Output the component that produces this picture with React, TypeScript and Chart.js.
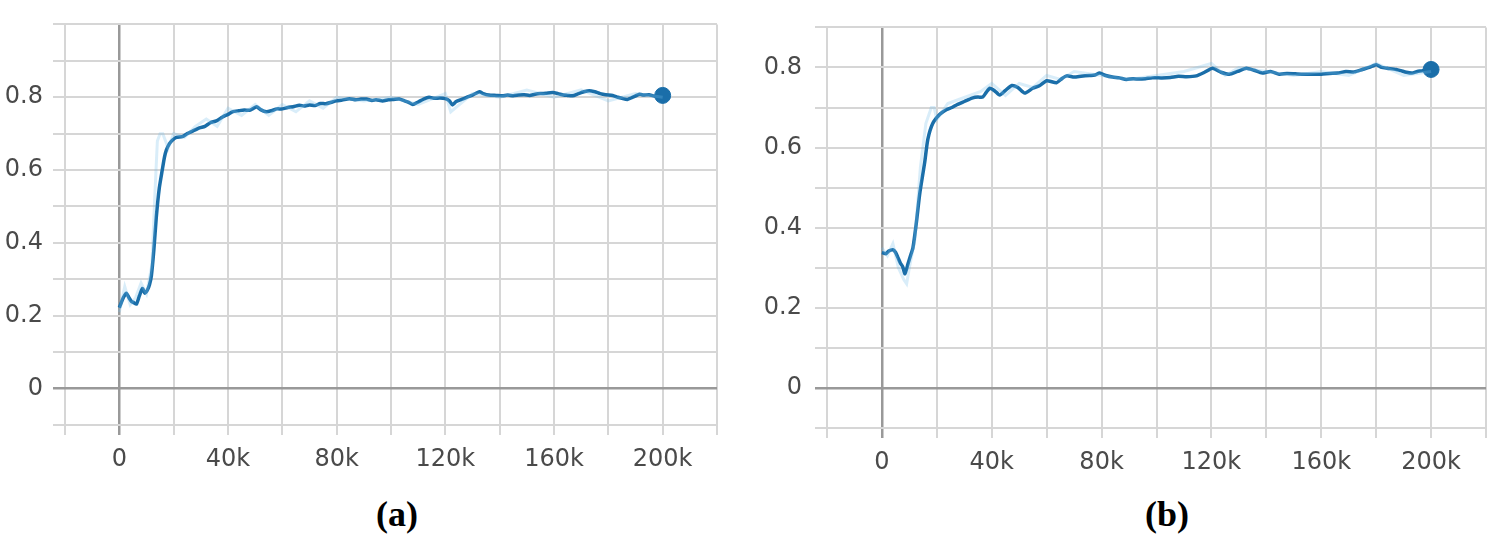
import React, { useEffect, useRef } from 'react';
import { Chart, registerables } from 'chart.js';

Chart.register(...registerables);

// Tick labels
const xTickValues = [0, 40000, 80000, 120000, 160000, 200000];
const xTickLabels = ['0', '40k', '80k', '120k', '160k', '200k'];
const yTickValues = [0, 0.2, 0.4, 0.6, 0.8];
const yTickLabels = ['0', '0.2', '0.4', '0.6', '0.8'];

// Panel (a) smoothed series (steps in thousands)
const stepsA = [0, 1.5, 2.6, 3.5, 4.4, 5.3, 6.3, 7.4, 8.5, 9.4, 10.3, 11.1, 11.8, 12.7, 13.6, 14.7, 15.8, 16.6, 17.3, 18.4, 19.5, 21, 23.2, 25, 27, 29.5, 31.5, 33.5, 35.7, 38, 40, 41.6, 44, 46, 47.9, 49, 50.5, 52, 54.1, 56, 58, 60, 62, 64, 66.3, 68, 70, 72, 74, 76, 78.4, 80, 82, 84.7, 87, 89, 91, 93, 94.5, 96.9, 99, 101, 103, 105, 106.5, 108, 110, 112, 114, 116, 118, 120, 121.5, 122.6, 124, 126, 128, 130, 132.6, 134, 136, 138.8, 141, 143, 145, 147, 149, 151, 153, 155, 157, 159.5, 161.5, 163.5, 165, 166.8, 169, 171, 173, 175, 177, 179, 181.6, 183.5, 185, 187, 189, 191.5, 193, 195, 197, 198.5, 200];
const valuesA = [0.222, 0.25, 0.262, 0.25, 0.24, 0.236, 0.232, 0.255, 0.275, 0.262, 0.27, 0.285, 0.31, 0.38, 0.47, 0.55, 0.6, 0.635, 0.655, 0.672, 0.682, 0.69, 0.692, 0.7, 0.707, 0.716, 0.72, 0.73, 0.735, 0.746, 0.753, 0.76, 0.763, 0.765, 0.764, 0.768, 0.774, 0.766, 0.76, 0.763, 0.768, 0.768, 0.772, 0.774, 0.778, 0.776, 0.779, 0.777, 0.783, 0.782, 0.787, 0.79, 0.792, 0.796, 0.793, 0.795, 0.795, 0.791, 0.793, 0.79, 0.793, 0.794, 0.795, 0.79, 0.786, 0.78, 0.787, 0.795, 0.8, 0.797, 0.798, 0.796, 0.79, 0.779, 0.788, 0.794, 0.8, 0.806, 0.815, 0.81, 0.806, 0.805, 0.804, 0.806, 0.804, 0.806, 0.807, 0.805, 0.808, 0.81, 0.811, 0.813, 0.81, 0.806, 0.805, 0.804, 0.81, 0.815, 0.818, 0.815, 0.81, 0.807, 0.805, 0.8, 0.797, 0.794, 0.8, 0.808, 0.806, 0.807, 0.803, 0.806, 0.805];

// Panel (a) raw (faint) series
const rawStepsA = [0, 2, 4, 6, 8, 10, 12, 13, 14, 15, 16, 18, 20, 24, 28, 32, 36, 40, 45, 50, 55, 60, 65, 70, 75, 80, 90, 100, 110, 120, 122, 130, 140, 150, 160, 170, 180, 190, 200];
const rawValuesA = [0.21, 0.28, 0.23, 0.25, 0.29, 0.26, 0.34, 0.52, 0.68, 0.7, 0.7, 0.66, 0.7, 0.69, 0.72, 0.74, 0.72, 0.77, 0.75, 0.78, 0.75, 0.78, 0.76, 0.79, 0.77, 0.8, 0.79, 0.8, 0.78, 0.81, 0.76, 0.81, 0.8, 0.82, 0.8, 0.82, 0.79, 0.81, 0.8];

// Panel (b) smoothed series (steps in thousands)
const stepsB = [0, 1.5, 2.5, 4, 5, 5.8, 6.7, 7.6, 8.4, 9.5, 10.4, 11.3, 12.5, 13.8, 15.6, 16.7, 18.5, 21.1, 23.6, 25.5, 27.3, 30, 33.1, 35, 36.7, 38, 39.3, 41, 42.9, 45, 47.3, 49.5, 52, 54.9, 57.5, 60, 63.6, 65.5, 67.3, 70, 72.5, 75.6, 77.5, 79.3, 81.5, 84, 86.5, 89, 91.5, 93.8, 96, 98.5, 102, 105, 108, 111, 114.5, 117.5, 120.4, 123.5, 126.5, 129.5, 132.7, 135.5, 138.5, 141.5, 144.7, 147.5, 150.5, 153.5, 156.7, 160, 163, 166, 169, 172, 175, 177.5, 180, 182, 184, 187.3, 189, 191, 193, 195, 197, 198.5, 200];
const valuesB = [0.338, 0.335, 0.342, 0.345, 0.338, 0.326, 0.312, 0.302, 0.285, 0.31, 0.33, 0.35, 0.41, 0.486, 0.564, 0.62, 0.66, 0.683, 0.695, 0.7, 0.707, 0.715, 0.724, 0.726, 0.726, 0.738, 0.748, 0.742, 0.731, 0.743, 0.755, 0.75, 0.736, 0.748, 0.755, 0.767, 0.762, 0.772, 0.779, 0.776, 0.778, 0.78, 0.781, 0.786, 0.78, 0.776, 0.774, 0.77, 0.772, 0.771, 0.772, 0.774, 0.774, 0.775, 0.778, 0.777, 0.779, 0.788, 0.798, 0.788, 0.783, 0.79, 0.798, 0.793, 0.786, 0.79, 0.783, 0.785, 0.784, 0.783, 0.783, 0.783, 0.785, 0.786, 0.79, 0.789, 0.795, 0.8, 0.807, 0.8, 0.798, 0.795, 0.792, 0.788, 0.786, 0.79, 0.792, 0.796, 0.795];

// Panel (b) raw (faint) series
const rawStepsB = [0, 2, 4, 6, 8, 9, 10, 12, 14, 16, 18, 19, 20, 24, 28, 32, 36, 40, 45, 50, 55, 60, 65, 70, 80, 90, 100, 110, 120, 125, 130, 140, 150, 160, 170, 180, 190, 200];
const rawValuesB = [0.35, 0.33, 0.36, 0.3, 0.27, 0.26, 0.3, 0.37, 0.55, 0.66, 0.7, 0.7, 0.67, 0.71, 0.72, 0.73, 0.74, 0.76, 0.73, 0.76, 0.75, 0.78, 0.77, 0.79, 0.78, 0.77, 0.78, 0.79, 0.81, 0.78, 0.8, 0.79, 0.78, 0.79, 0.78, 0.81, 0.78, 0.79];

const LINE = '#1a6ea9';
const RAW = 'rgba(120,190,235,0.28)';
const GRID = '#d6d6d6';
const ZERO = '#999999';
const FONT = { family: '"DejaVu Sans", sans-serif', size: 24 };

type PanelProps = {
  steps: number[];
  values: number[];
  rawSteps: number[];
  rawValues: number[];
  yMax: number;
  left: number;
  width: number;
  yAxisWidth: number;
  rightPad: number;
  topPad: number;
  xAxisHeight: number;
  yLabelPad: number;
};

function Panel(p: PanelProps) {
  const ref = useRef<HTMLCanvasElement | null>(null);
  useEffect(() => {
    if (!ref.current) return;
    const main = p.steps.map((s, i) => ({ x: s * 1000, y: p.values[i] }));
    const raw = p.rawSteps.map((s, i) => ({ x: s * 1000, y: p.rawValues[i] }));
    const last = main.length - 1;
    const isZero = (v: number) => Math.abs(v) < 1e-9;
    const chart = new Chart(ref.current, {
      type: 'line',
      data: {
        datasets: [
          {
            data: raw,
            borderColor: RAW,
            borderWidth: 3,
            pointRadius: 0,
            tension: 0,
          },
          {
            data: main,
            borderColor: LINE,
            backgroundColor: LINE,
            borderWidth: 3.5,
            tension: 0.2,
            pointRadius: (ctx: any) => (ctx.dataIndex === last ? 8 : 0),
            pointBackgroundColor: LINE,
            pointBorderColor: LINE,
            pointBorderWidth: 1,
          },
        ],
      },
      options: {
        responsive: false,
        animation: false,
        devicePixelRatio: 1,
        layout: { padding: { left: 0, right: p.rightPad, top: p.topPad, bottom: 0 } },
        plugins: { legend: { display: false }, tooltip: { enabled: false } },
        scales: {
          x: {
            type: 'linear',
            min: -20000,
            max: 220000,
            border: { display: false },
            grid: {
              color: (ctx: any) => (ctx.tick && isZero(ctx.tick.value) ? ZERO : GRID),
              lineWidth: (ctx: any) => (ctx.tick && isZero(ctx.tick.value) ? 2.5 : 2),
              tickLength: 10,
            },
            ticks: {
              stepSize: 20000,
              autoSkip: false,
              maxRotation: 0,
              padding: 10,
              color: '#4a4a4a',
              font: FONT,
              callback: (v: any) => {
                const idx = xTickValues.indexOf(Math.round(Number(v)));
                return idx >= 0 ? xTickLabels[idx] : '';
              },
            },
            afterFit: (scale: any) => {
              scale.height = p.xAxisHeight;
            },
          },
          y: {
            type: 'linear',
            min: -0.1,
            max: p.yMax,
            border: { display: false },
            grid: {
              color: (ctx: any) => (ctx.tick && isZero(ctx.tick.value) ? ZERO : GRID),
              lineWidth: (ctx: any) => (ctx.tick && isZero(ctx.tick.value) ? 2.5 : 2),
              tickLength: 12,
            },
            ticks: {
              stepSize: 0.1,
              autoSkip: false,
              padding: p.yLabelPad,
              color: '#4a4a4a',
              font: FONT,
              callback: (v: any) => {
                const r = Math.round(Number(v) * 10) / 10;
                const idx = yTickValues.findIndex((t) => Math.abs(t - r) < 1e-9);
                return idx >= 0 ? yTickLabels[idx] : '';
              },
            },
            afterFit: (scale: any) => {
              scale.width = p.yAxisWidth;
            },
          },
        },
      } as any,
    });
    return () => chart.destroy();
  }, []);
  return (
    <canvas
      ref={ref}
      width={p.width}
      height={490}
      style={{ position: 'absolute', left: p.left, top: 0, width: p.width, height: 490 }}
    />
  );
}

const captionStyle: React.CSSProperties = {
  position: 'absolute',
  top: 493,
  width: 100,
  textAlign: 'center',
  fontFamily: '"Liberation Serif", "Times New Roman", serif',
  fontWeight: 'bold',
  fontSize: 36,
  lineHeight: '42px',
  color: '#000',
};

export default function App() {
  return (
    <div style={{ position: 'absolute', left: 0, top: 0, width: 1496, height: 540, background: '#fff', overflow: 'hidden' }}>
      <Panel
        steps={stepsA}
        values={valuesA}
        rawSteps={rawStepsA}
        rawValues={rawValuesA}
        yMax={1.0}
        left={0}
        width={740}
        yAxisWidth={65}
        rightPad={23}
        topPad={9}
        xAxisHeight={65}
        yLabelPad={10}
      />
      <Panel
        steps={stepsB}
        values={valuesB}
        rawSteps={rawStepsB}
        rawValues={rawValuesB}
        yMax={0.9}
        left={750}
        width={746}
        yAxisWidth={77}
        rightPad={9}
        topPad={8}
        xAxisHeight={62}
        yLabelPad={13}
      />
      <div style={{ ...captionStyle, left: 347 }}>(a)</div>
      <div style={{ ...captionStyle, left: 1117 }}>(b)</div>
    </div>
  );
}
